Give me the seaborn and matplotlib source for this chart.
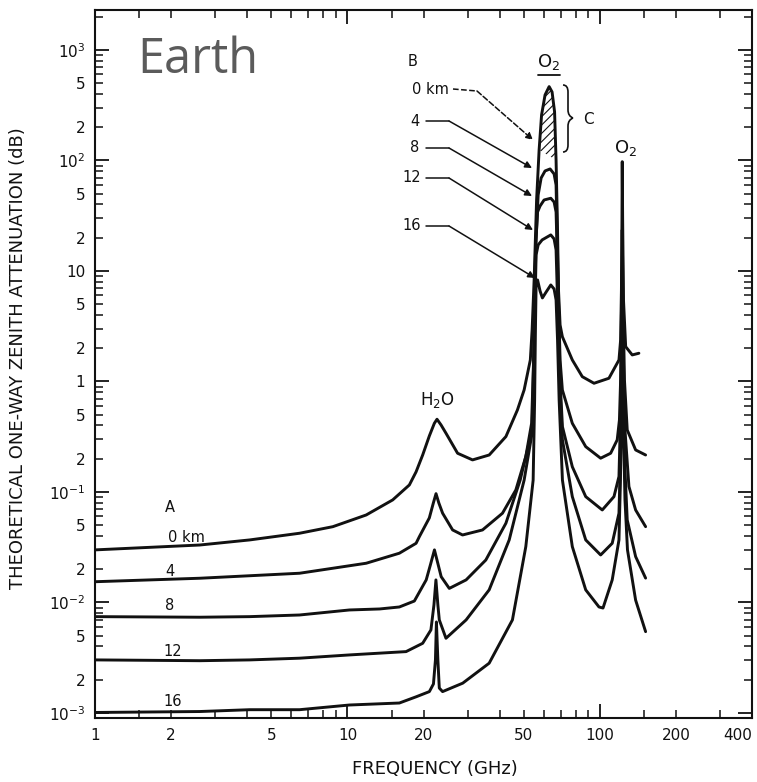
import numpy as np
import pandas as pd
import matplotlib
matplotlib.use("Agg")
import matplotlib.pyplot as plt
import seaborn as sns
from matplotlib.ticker import LogLocator, FuncFormatter
from matplotlib.path import Path
from matplotlib.patches import PathPatch

# ---------------- data ----------------
ALT_NAMES = ["0 km", "4 km", "8 km", "12 km", "16 km"]

FREQ_0 = [1.00, 2.60, 4.10, 6.46, 8.75, 11.86, 15.1, 17.58, 18.69, 19.85, 21.09, 22.08, 22.62,
          23.47, 24.55, 27.29, 31.28, 36.41, 42.40, 47.1, 50.07, 52.98, 53.85, 54.85, 56.1,
          57.4, 58.7, 60.6, 62.9, 64.6, 66.1, 67.0, 67.9, 68.5, 69.5, 70.96, 77.7, 85.1, 94.7,
          108.5, 118.9, 120.7, 121.6, 122.2, 122.5, 122.96, 123.9, 126.4, 134.2, 142.6]
ATT_0 = [0.0299, 0.0331, 0.0368, 0.0423, 0.0485, 0.0619, 0.0847, 0.1157, 0.152, 0.216, 0.321,
         0.418, 0.455, 0.404, 0.340, 0.224, 0.195, 0.216, 0.317, 0.552, 0.838, 1.565, 2.92,
         8.29, 43.9, 124.5, 258, 392, 466, 417, 275, 101, 23.5, 6.73, 3.25, 2.54, 1.565, 1.105,
         0.963, 1.069, 1.565, 2.375, 6.73, 28.9, 97.5, 28.9, 5.47, 2.065, 1.738, 1.80]

FREQ_4 = [1.00, 2.60, 6.46, 11.86, 16.05, 18.69, 19.26, 21.09, 21.88, 22.42, 23.0, 23.81, 26.08,
          28.56, 34.26, 41.1, 46.43, 50.84, 53.6, 54.6, 55.1, 55.85, 56.9, 58.47, 60.6, 63.45,
          65.8, 67.0, 67.6, 68.5, 69.5, 70.96, 77.7, 87.8, 100.6, 110.2, 117.0, 119.4, 120.7,
          121.8, 122.5, 123.6, 125.0, 128.2, 138.4, 151.6]
ATT_4 = [0.0154, 0.01656, 0.01838, 0.02264, 0.0279, 0.0343, 0.0394, 0.0582, 0.0795, 0.0965,
         0.0795, 0.0642, 0.0453, 0.0408, 0.0453, 0.0642, 0.1043, 0.209, 0.418, 1.565, 5.47,
         19.1, 48.7, 69.4, 80.4, 83.8, 75.5, 60.0, 23.5, 5.47, 1.565, 0.838, 0.418, 0.257,
         0.202, 0.224, 0.296, 0.448, 1.03, 5.47, 23.5, 4.44, 1.03, 0.364, 0.240, 0.216]

FREQ_8 = [1.00, 2.60, 4.10, 6.46, 10.18, 13.4, 16.05, 18.4, 20.5, 21.3, 22.1, 23.5, 25.3, 29.5,
          35.3, 42.4, 48.3, 53.85, 54.6, 55.1, 55.6, 56.6, 57.9, 60.06, 63.85, 65.8, 67.0, 67.8,
          68.7, 69.5, 71.0, 77.7, 87.8, 102.1, 113.6, 118.9, 120.5, 121.6, 122.5, 123.6, 125.6,
          130.2, 138.4, 151.6]
ATT_8 = [0.00744, 0.00735, 0.00744, 0.0077, 0.00855, 0.00873, 0.0091, 0.0103, 0.0160, 0.0219,
         0.0299, 0.0171, 0.0134, 0.0160, 0.0242, 0.0521, 0.128, 0.364, 1.565, 5.47, 17.2, 34.2,
         38.7, 43.9, 45.5, 42.1, 34.2, 12.6, 3.60, 1.03, 0.390, 0.169, 0.0907, 0.0687, 0.0907,
         0.138, 0.448, 2.375, 10.2, 1.93, 0.364, 0.112, 0.0687, 0.0485]

FREQ_12 = [1.00, 2.60, 4.10, 6.46, 10.18, 17.06, 19.85, 21.4, 22.0, 22.4, 22.8, 23.1, 24.55, 29.5,
           36.4, 43.7, 50.07, 54.1, 54.85, 55.35, 55.85, 56.9, 59.0, 63.85, 65.8, 67.0, 67.9,
           68.9, 71.0, 77.7, 87.8, 100.6, 111.8, 118.9, 120.5, 121.6, 122.5, 123.6, 125.6, 128.2,
           138.4, 151.6]
ATT_12 = [0.00302, 0.00297, 0.00302, 0.00313, 0.00335, 0.00359, 0.00427, 0.00564, 0.0095,
          0.0160, 0.0095, 0.00695, 0.00474, 0.00695, 0.0130, 0.0368, 0.128, 0.364, 1.565, 5.47,
          14.0, 17.2, 19.1, 21.2, 19.5, 15.5, 5.47, 1.27, 0.296, 0.0907, 0.0368, 0.0269, 0.0343,
          0.0642, 0.195, 1.03, 5.47, 0.838, 0.158, 0.0558, 0.0260, 0.0166]

FREQ_16 = [1.00, 2.60, 4.10, 6.46, 10.18, 16.05, 18.7, 21.1, 21.9, 22.3, 22.5, 22.8, 23.1, 23.8,
           28.6, 36.4, 45.0, 50.84, 54.36, 55.1, 55.5, 55.85, 56.6, 57.9, 59.15, 61.2, 63.85,
           65.8, 67.0, 67.9, 68.9, 71.0, 77.7, 87.8, 99.1, 102.8, 111.8, 118.9, 120.5, 121.6,
           122.5, 123.6, 125.6, 128.5, 138.4, 151.6]
ATT_16 = [0.00101, 0.00103, 0.00107, 0.00107, 0.00118, 0.00123, 0.00140, 0.00156, 0.00183,
          0.00302, 0.00666, 0.00302, 0.00168, 0.00156, 0.00186, 0.00282, 0.00695, 0.032, 0.128,
          0.680, 2.92, 7.47, 8.29, 6.59, 5.70, 6.45, 7.47, 6.87, 5.47, 2.375, 0.680, 0.128,
          0.032, 0.0130, 0.0091, 0.0089, 0.0160, 0.0368, 0.128, 0.552, 2.92, 0.448, 0.0847,
          0.0299, 0.0105, 0.00544]

X_LABELED = [1, 2, 5, 10, 20, 50, 100, 200, 400]
LEFT_LABELS = ["A", "0 km", "4", "8", "12", "16"]
PEAK_LABELS = ["B", "0 km", "4", "8", "12", "16"]

XLIM = (1, 400)
YLIM = (9.0e-4, 2.3e3)

# ---------------- figure ----------------
sns.set_theme(style="ticks")
plt.rcParams["font.family"] = ["DejaVu Sans"]
plt.rcParams["mathtext.default"] = "regular"
plt.rcParams["hatch.linewidth"] = 0.8

W, H = 757, 782
fig = plt.figure(figsize=(W / 100, H / 100), dpi=100)
fig.patch.set_facecolor("white")
AX_L, AX_R, AX_T, AX_B = 95, 752, 10, 718
ax = fig.add_axes([AX_L / W, 1 - AX_B / H, (AX_R - AX_L) / W, (AX_B - AX_T) / H])
ax.set_facecolor("white")

frames = []
for name, f, a in zip(ALT_NAMES, [FREQ_0, FREQ_4, FREQ_8, FREQ_12, FREQ_16],
                      [ATT_0, ATT_4, ATT_8, ATT_12, ATT_16]):
    frames.append(pd.DataFrame({"freq": f, "att": a, "alt": name}))
df = pd.concat(frames, ignore_index=True)

sns.lineplot(data=df, x="freq", y="att", units="alt", estimator=None, sort=False,
             color="#111111", lw=2.1, ax=ax, legend=False)

# hatched cap of the 0 km peak (part of the 0 km curve above the 4 km arch)
cap = [(f, a) for f, a in zip(FREQ_0, ATT_0) if 57.0 <= f <= 67.2]
ax.fill([c[0] for c in cap], [c[1] for c in cap], facecolor="none", edgecolor="#111111",
        hatch="////", lw=0)

ax.set_xscale("log")
ax.set_yscale("log")
ax.set_xlim(*XLIM)
ax.set_ylim(*YLIM)

# ticks
ax.xaxis.set_major_locator(LogLocator(base=10, numticks=10))
ax.xaxis.set_minor_locator(LogLocator(base=10, subs=(1.5, 2, 3, 4, 5, 6, 7, 8, 9), numticks=20))
ax.yaxis.set_major_locator(LogLocator(base=10, numticks=12))
ax.yaxis.set_minor_locator(LogLocator(base=10, subs=(2, 3, 4, 5, 6, 7, 8, 9), numticks=20))


def in_x(v):
    return XLIM[0] * 0.999 <= v <= XLIM[1] * 1.001


def in_y(v):
    return YLIM[0] <= v <= 1000 * 1.001


def xmaj(v, pos):
    return "%d" % round(v) if in_x(v) else ""


def xmin(v, pos):
    if not in_x(v):
        return ""
    for t in X_LABELED:
        if np.isclose(v, t):
            return "%d" % t
    return ""


def ymaj(v, pos):
    if not in_y(v):
        return ""
    e = int(round(np.log10(v)))
    if e == 0:
        return "1"
    if e == 1:
        return "10"
    return r"$10^{%d}$" % e


def ymin(v, pos):
    if not in_y(v):
        return ""
    e = np.floor(np.log10(v) + 1e-9)
    m = v / 10 ** e
    if np.isclose(m, 2):
        return "2"
    if np.isclose(m, 5):
        return "5"
    return ""


ax.xaxis.set_major_formatter(FuncFormatter(xmaj))
ax.xaxis.set_minor_formatter(FuncFormatter(xmin))
ax.yaxis.set_major_formatter(FuncFormatter(ymaj))
ax.yaxis.set_minor_formatter(FuncFormatter(ymin))

ax.tick_params(which="both", direction="in", top=True, right=True, labeltop=False,
               labelright=False, color="#111111", labelcolor="#111111", labelsize=11, pad=7)
ax.tick_params(which="major", length=10, width=1.3)
ax.tick_params(which="minor", length=6, width=1.1)
for s in ax.spines.values():
    s.set_linewidth(1.5)
    s.set_color("#111111")

ax.set_xlabel("FREQUENCY (GHz)", fontsize=13, color="#111111")
ax.set_ylabel("THEORETICAL ONE-WAY ZENITH ATTENUATION (dB)", fontsize=13, color="#111111")


def fx(px):
    return (px - AX_L) / (AX_R - AX_L)


def fy(py):
    return (AX_B - py) / (AX_B - AX_T)


ax.xaxis.set_label_coords(fx(435), fy(760))
ax.yaxis.set_label_coords(fx(27), fy(358))

T = ax.transAxes
ax.text(fx(137), fy(73), "Earth", transform=T, fontsize=35, color="#5b5b5b",
        family=["Open Sans", "DejaVu Sans"], ha="left", va="baseline")

# O2 / H2O labels
ax.text(fx(549), fy(62), r"O$_2$", transform=T, fontsize=13, ha="center", va="center",
        color="#111111")
ax.plot([fx(538), fx(560)], [fy(75), fy(75)], transform=T, color="#111111", lw=1.3)
ax.text(fx(626), fy(148), r"O$_2$", transform=T, fontsize=13, ha="center", va="center",
        color="#111111")
ax.text(fx(437), fy(400), r"H$_2$O", transform=T, fontsize=12, ha="center", va="center",
        color="#111111")

# left labels (A)
left_pos = [(170, 507), (186, 537), (170, 571), (170, 606), (173, 652), (173, 701)]
for lab, (px, py) in zip(LEFT_LABELS, left_pos):
    ax.text(fx(px), fy(py), lab, transform=T, fontsize=10.5, ha="center", va="center",
            color="#111111")

# peak labels (B) and leaders
peak_pos = [(413, 61), (430, 89), (415, 121), (415, 148), (412, 178), (412, 226)]
for lab, (px, py) in zip(PEAK_LABELS, peak_pos):
    ax.text(fx(px), fy(py), lab, transform=T, fontsize=10.5, ha="center", va="center",
            color="#111111")

leaders = [
    ((453, 89), (477, 91), (533, 140), "--"),
    ((426, 121), (449, 121), (532, 168), "-"),
    ((426, 148), (449, 148), (532, 196), "-"),
    ((426, 178), (449, 178), (533, 230), "-"),
    ((426, 226), (449, 226), (535, 278), "-"),
]
for (x0, y0), (x1, y1), (x2, y2), ls in leaders:
    ax.plot([fx(x0), fx(x1)], [fy(y0), fy(y1)], transform=T, color="#111111", lw=1.1, ls=ls)
    ax.annotate("", xy=(fx(x2), fy(y2)), xytext=(fx(x1), fy(y1)), xycoords=T, textcoords=T,
                arrowprops=dict(arrowstyle="-|>", color="#111111", lw=1.1, ls=ls,
                                mutation_scale=10, shrinkA=0, shrinkB=0))

# brace and C
bx = 568
verts = [(bx - 5, 85), (bx, 85), (bx, 92), (bx, 110), (bx, 116), (bx + 5, 118), (bx + 5, 118),
         (bx, 120), (bx, 126), (bx, 145), (bx, 152), (bx - 5, 152)]
codes = [Path.MOVETO, Path.CURVE3, Path.CURVE3, Path.LINETO, Path.CURVE3, Path.CURVE3,
         Path.MOVETO, Path.CURVE3, Path.CURVE3, Path.LINETO, Path.CURVE3, Path.CURVE3]
verts_ax = [(fx(a), fy(b)) for a, b in verts]
ax.add_patch(PathPatch(Path(verts_ax, codes), transform=T, fill=False, lw=1.2,
                       edgecolor="#111111"))
ax.text(fx(588), fy(120), "C", transform=T, fontsize=11, ha="center", va="center",
        color="#111111")

# keep the "400" tick label inside the figure (right-aligned at the axis edge)
fig.canvas.draw()
for lbl in ax.get_xminorticklabels():
    if lbl.get_text() == "400":
        lbl.set_horizontalalignment("right")

fig.savefig("out.png", dpi=100, facecolor="white")
